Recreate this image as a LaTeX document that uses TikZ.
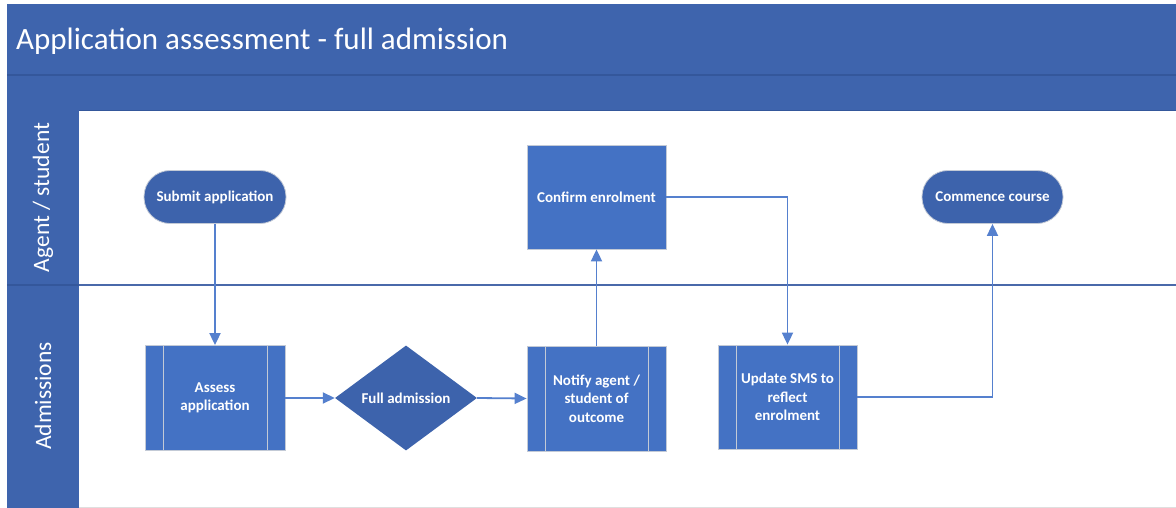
\documentclass[tikz,border=0pt]{standalone}
\usepackage{fontspec}
\setmainfont{Carlito}
\usetikzlibrary{shapes.geometric,arrows.meta,calc}
\definecolor{hdr}{HTML}{3E64AD}
\definecolor{hdrline}{HTML}{34579B}
\definecolor{procfill}{HTML}{4472C4}
\definecolor{termfill}{HTML}{3D63AC}
\definecolor{conn}{HTML}{5580CE}
\definecolor{lanel}{HTML}{4A69AA}
\definecolor{boxedge}{HTML}{C3CAD6}
\tikzset{
  nodetext/.style={text=white,font=\fontsize{15}{18.3}\selectfont\bfseries,align=center},
  term/.style={nodetext,fill=termfill,draw=boxedge,line width=0.8pt,rounded corners=26pt,minimum width=142pt,minimum height=53pt,inner sep=0pt},
  procbox/.style={nodetext,fill=procfill,draw=boxedge,line width=0.8pt,minimum width=139pt,minimum height=104pt,inner sep=0pt},
  subproc/.style={procbox,path picture={
      \draw[boxedge,line width=0.8pt] ([xshift=18pt]path picture bounding box.north west) -- ([xshift=18pt]path picture bounding box.south west);
      \draw[boxedge,line width=0.8pt] ([xshift=-18pt]path picture bounding box.north east) -- ([xshift=-18pt]path picture bounding box.south east);}},
  decis/.style={nodetext,diamond,fill=termfill,draw=none,minimum width=142pt,minimum height=105pt,inner sep=0pt,aspect=1.35},
  flow/.style={draw=conn,line width=1.8pt,-{Triangle[length=12pt,width=11pt]}},
  lanelabel/.style={text=white,font=\fontsize{23.5}{26}\selectfont,rotate=90}
}
\begin{document}
\begin{tikzpicture}[x=1pt,y=-1pt]
\useasboundingbox (0,0) rectangle (1176,508);
\fill[white] (0,0) rectangle (1176,508);
% header bands
\fill[hdr] (7,4) rectangle (1176,110);
\draw[hdrline,line width=1.2pt] (7,75) -- (1176,75);
\draw[hdrline,line width=0.8pt] (7,110) -- (1176,110);
% lane column
\fill[hdr] (7,110) rectangle (79,508);
\draw[hdrline,line width=1.2pt] (7,285) -- (79,285);
\draw[lanel,line width=1.4pt] (79,285) -- (1176,285);
\draw[gray!25,line width=1pt] (79,507) -- (1176,507);
% title
\node[anchor=west,text=white,font=\fontsize{31}{34}\selectfont,inner sep=0pt] (title) at (16,41) {Application assessment - full admission};
% lane labels
\node[lanelabel] (lane1) at (43,197.5) {Agent / student};
\node[lanelabel] (lane2) at (43,396) {Admissions};
% nodes
\node[term] (submit) at (215,197) {Submit application};
\node[subproc,minimum width=140pt,minimum height=105pt] (assess) at (215,398) {Assess\\application};
\node[decis] (full) at (406,398) {Full admission};
\node[procbox] (confirm) at (596.5,197) {Confirm enrolment};
\node[subproc,minimum height=105pt] (notify) at (596.5,398.5) {Notify agent /\\student of\\outcome};
\node[subproc] (update) at (787.5,397) {Update SMS to\\reflect\\enrolment};
\node[term,minimum width=141pt] (commence) at (992.5,197) {Commence course};
% connectors
\draw[flow] (submit.south) -- (assess.north);
\draw[flow] (assess.east) -- (full.west);
\draw[flow] (full.east) -- (notify.west);
\draw[flow] (notify.north) -- (confirm.south);
\draw[flow] (confirm.east) -| (update.north);
\draw[flow] (update.east) -| (commence.south);
\end{tikzpicture}
\end{document}
